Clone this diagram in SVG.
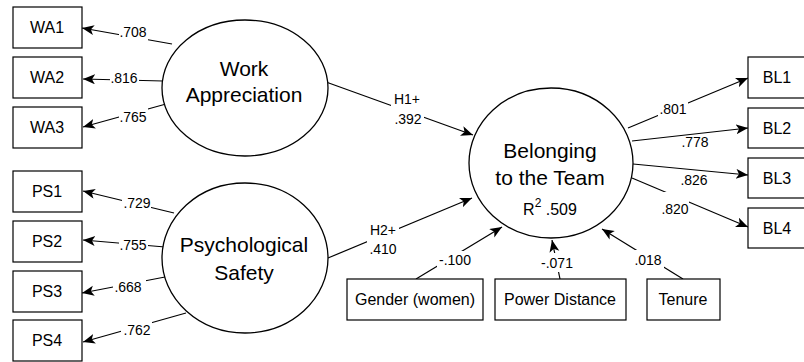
<svg xmlns="http://www.w3.org/2000/svg" width="804" height="362" viewBox="0 0 804 362">
<style>
text{font-family:"Liberation Sans",Arial,sans-serif;fill:#000;text-anchor:middle}
.box{fill:#fff;stroke:#000;stroke-width:1.2}
.ell{fill:#fff;stroke:#000;stroke-width:1.3}
.big{font-size:21px}
.bl{font-size:16px}
.sm{font-size:14px}
.e{stroke:#000;stroke-width:1.2;fill:none;marker-end:url(#arr)}
.bg{fill:#fff;stroke:none}
</style>
<defs>
<marker id="arr" markerUnits="userSpaceOnUse" markerWidth="14" markerHeight="12" refX="12" refY="5" orient="auto">
<path d="M0,0 L12,5 L0,10 L3,5 Z" fill="#000"/>
</marker>
</defs>
<g id="connectors">
<line class="e" x1="172" y1="44" x2="82" y2="28"/>
<line class="e" x1="163" y1="81" x2="83" y2="79"/>
<line class="e" x1="166" y1="104" x2="83" y2="127"/>
<line class="e" x1="174" y1="213" x2="83" y2="191"/>
<line class="e" x1="165" y1="247" x2="83" y2="240"/>
<line class="e" x1="165" y1="277" x2="82" y2="293"/>
<line class="e" x1="186" y1="313" x2="83" y2="342"/>
<line class="e" x1="326" y1="82" x2="473" y2="135"/>
<line class="e" x1="328" y1="258" x2="472" y2="198"/>
<line class="e" x1="628" y1="128" x2="748" y2="78"/>
<line class="e" x1="632" y1="141" x2="748" y2="128"/>
<line class="e" x1="633" y1="164" x2="748" y2="175"/>
<line class="e" x1="632" y1="178" x2="748" y2="227"/>
<line class="e" x1="416" y1="279" x2="502" y2="227"/>
<line class="e" x1="560" y1="279" x2="552" y2="240"/>
<line class="e" x1="683" y1="279" x2="602" y2="229"/>
<rect class="bg" x="119" y="26" width="29" height="15"/>
<text class="sm" x="133" y="37">.708</text>
<rect class="bg" x="110" y="70" width="29" height="16"/>
<text class="sm" x="124" y="83">.816</text>
<rect class="bg" x="119" y="108" width="29" height="17"/>
<text class="sm" x="133" y="122">.765</text>
<rect class="bg" x="122" y="196" width="29" height="15"/>
<text class="sm" x="137" y="208">.729</text>
<rect class="bg" x="119" y="237" width="29" height="16"/>
<text class="sm" x="133" y="250">.755</text>
<rect class="bg" x="113" y="279" width="33" height="16"/>
<text class="sm" x="128" y="292">.668</text>
<rect class="bg" x="121" y="322" width="31" height="16"/>
<text class="sm" x="137" y="335">.762</text>
<rect class="bg" x="391" y="90" width="33" height="38"/>
<text class="sm" x="407" y="104">H1+</text>
<text class="sm" x="408" y="124">.392</text>
<rect class="bg" x="367" y="220" width="32" height="38"/>
<text class="sm" x="383" y="235">H2+</text>
<text class="sm" x="383" y="254">.410</text>
<rect class="bg" x="658" y="100" width="30" height="18"/>
<text class="sm" x="673" y="114">.801</text>
<text class="sm" x="695" y="147">.778</text>
<text class="sm" x="694" y="185">.826</text>
<rect class="bg" x="661" y="192" width="28" height="25"/>
<text class="sm" x="675" y="214">.820</text>
<rect class="bg" x="437" y="251" width="36" height="17"/>
<text class="sm" x="455" y="265">-.100</text>
<rect class="bg" x="540" y="253" width="34" height="19"/>
<text class="sm" x="557" y="268">-.071</text>
<rect class="bg" x="634" y="250" width="30" height="18"/>
<text class="sm" x="648" y="265">.018</text>
</g>
<g id="WA1"><rect class="box" x="13" y="7" width="69" height="41"/><text class="bl" x="47" y="33">WA1</text></g>
<g id="WA2"><rect class="box" x="13" y="57" width="69" height="41"/><text class="bl" x="47" y="83">WA2</text></g>
<g id="WA3"><rect class="box" x="13" y="107" width="69" height="41"/><text class="bl" x="47" y="133">WA3</text></g>
<g id="PS1"><rect class="box" x="13" y="171" width="69" height="41"/><text class="bl" x="47" y="197">PS1</text></g>
<g id="PS2"><rect class="box" x="13" y="221" width="69" height="41"/><text class="bl" x="47" y="247">PS2</text></g>
<g id="PS3"><rect class="box" x="13" y="271" width="69" height="41"/><text class="bl" x="47" y="297">PS3</text></g>
<g id="PS4"><rect class="box" x="13" y="320" width="69" height="41"/><text class="bl" x="47" y="346">PS4</text></g>
<g id="WorkAppreciation"><ellipse class="ell" cx="245" cy="88" rx="83" ry="68"/><text class="big" x="244" y="76">Work</text><text class="big" x="244" y="102">Appreciation</text></g>
<g id="PsychologicalSafety"><ellipse class="ell" cx="245" cy="258" rx="83" ry="75"/><text class="big" x="244" y="252">Psychological</text><text class="big" x="244" y="280">Safety</text></g>
<g id="Belonging"><ellipse class="ell" cx="551" cy="163" rx="82" ry="75"/><text class="big" x="550" y="158">Belonging</text><text class="big" x="550" y="185">to the Team</text><text class="bl" x="550" y="215">R<tspan font-size="12" dy="-8">2</tspan><tspan dy="8"> .509</tspan></text></g>
<g id="BL1"><rect class="box" x="748" y="57" width="60" height="41"/><text class="bl" x="777" y="83">BL1</text></g>
<g id="BL2"><rect class="box" x="748" y="108" width="60" height="40"/><text class="bl" x="777" y="134">BL2</text></g>
<g id="BL3"><rect class="box" x="748" y="158" width="60" height="40"/><text class="bl" x="777" y="184">BL3</text></g>
<g id="BL4"><rect class="box" x="748" y="208" width="60" height="40"/><text class="bl" x="777" y="234">BL4</text></g>
<g id="Gender"><rect class="box" x="347" y="279" width="136" height="41"/><text class="bl" x="415" y="305">Gender (women)</text></g>
<g id="PowerDistance"><rect class="box" x="495" y="279" width="131" height="41"/><text class="bl" x="560" y="305">Power Distance</text></g>
<g id="Tenure"><rect class="box" x="647" y="279" width="73" height="41"/><text class="bl" x="683" y="305">Tenure</text></g>
</svg>
